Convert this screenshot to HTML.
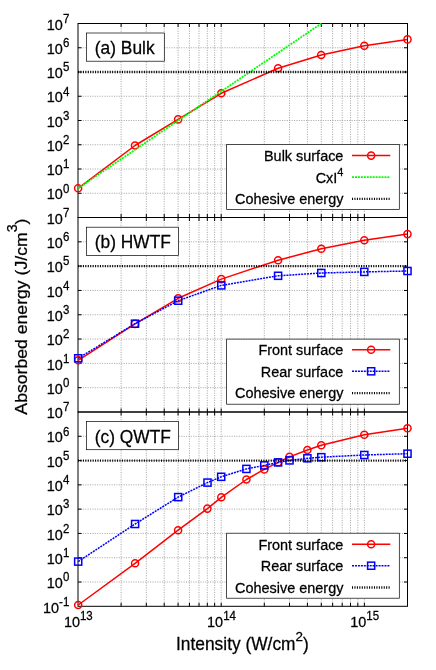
<!DOCTYPE html>
<html>
<head>
<meta charset="utf-8">
<title>Absorbed energy vs intensity</title>
<style>
html, body { margin: 0; padding: 0; background: #ffffff; }
body { width: 436px; height: 670px; overflow: hidden; font-family: "Liberation Sans", sans-serif; }
svg { display: block; will-change: transform; }
</style>
</head>
<body>
<svg width="436" height="670" viewBox="0 0 436 670">
<rect x="0" y="0" width="436" height="670" fill="#ffffff"/>
<g>
<path d="M121.11 23.5V217.5M146.32 23.5V217.5M164.21 23.5V217.5M178.09 23.5V217.5M189.43 23.5V217.5M199.02 23.5V217.5M207.32 23.5V217.5M214.64 23.5V217.5M221.2 23.5V217.5M264.3 23.5V217.5M289.52 23.5V217.5M307.41 23.5V217.5M321.29 23.5V217.5M332.63 23.5V217.5M342.21 23.5V217.5M350.52 23.5V217.5M357.84 23.5V217.5M364.39 23.5V217.5M78 193.25H407.5M78 169H407.5M78 144.75H407.5M78 120.5H407.5M78 96.25H407.5M78 72H407.5M78 47.75H407.5" fill="none" stroke="#a2a2a2" stroke-width="0.9" stroke-dasharray="1.1 1.3"/>
<path d="M121.11 23.5v3.5M121.11 217.5v-3.5M146.32 23.5v3.5M146.32 217.5v-3.5M164.21 23.5v3.5M164.21 217.5v-3.5M178.09 23.5v3.5M178.09 217.5v-3.5M189.43 23.5v3.5M189.43 217.5v-3.5M199.02 23.5v3.5M199.02 217.5v-3.5M207.32 23.5v3.5M207.32 217.5v-3.5M214.64 23.5v3.5M214.64 217.5v-3.5M221.2 23.5v3.5M221.2 217.5v-3.5M264.3 23.5v3.5M264.3 217.5v-3.5M289.52 23.5v3.5M289.52 217.5v-3.5M307.41 23.5v3.5M307.41 217.5v-3.5M321.29 23.5v3.5M321.29 217.5v-3.5M332.63 23.5v3.5M332.63 217.5v-3.5M342.21 23.5v3.5M342.21 217.5v-3.5M350.52 23.5v3.5M350.52 217.5v-3.5M357.84 23.5v3.5M357.84 217.5v-3.5M364.39 23.5v3.5M364.39 217.5v-3.5M78 193.25h3.5M407.5 193.25h-3.5M78 169h3.5M407.5 169h-3.5M78 144.75h3.5M407.5 144.75h-3.5M78 120.5h3.5M407.5 120.5h-3.5M78 96.25h3.5M407.5 96.25h-3.5M78 72h3.5M407.5 72h-3.5M78 47.75h3.5M407.5 47.75h-3.5" fill="none" stroke="#000" stroke-width="1"/>
<rect x="78" y="23.5" width="329.5" height="194" fill="none" stroke="#000" stroke-width="1"/>
<text transform="translate(69.3 199.45) scale(1 1.05)" text-anchor="end" font-family='"Liberation Sans", sans-serif' font-size="14.45" fill="#000" stroke="#000" stroke-width="0.25">10<tspan font-size="11.5" dy="-6.6">0</tspan></text>
<text transform="translate(69.3 175.2) scale(1 1.05)" text-anchor="end" font-family='"Liberation Sans", sans-serif' font-size="14.45" fill="#000" stroke="#000" stroke-width="0.25">10<tspan font-size="11.5" dy="-6.6">1</tspan></text>
<text transform="translate(69.3 150.95) scale(1 1.05)" text-anchor="end" font-family='"Liberation Sans", sans-serif' font-size="14.45" fill="#000" stroke="#000" stroke-width="0.25">10<tspan font-size="11.5" dy="-6.6">2</tspan></text>
<text transform="translate(69.3 126.7) scale(1 1.05)" text-anchor="end" font-family='"Liberation Sans", sans-serif' font-size="14.45" fill="#000" stroke="#000" stroke-width="0.25">10<tspan font-size="11.5" dy="-6.6">3</tspan></text>
<text transform="translate(69.3 102.45) scale(1 1.05)" text-anchor="end" font-family='"Liberation Sans", sans-serif' font-size="14.45" fill="#000" stroke="#000" stroke-width="0.25">10<tspan font-size="11.5" dy="-6.6">4</tspan></text>
<text transform="translate(69.3 78.2) scale(1 1.05)" text-anchor="end" font-family='"Liberation Sans", sans-serif' font-size="14.45" fill="#000" stroke="#000" stroke-width="0.25">10<tspan font-size="11.5" dy="-6.6">5</tspan></text>
<text transform="translate(69.3 53.95) scale(1 1.05)" text-anchor="end" font-family='"Liberation Sans", sans-serif' font-size="14.45" fill="#000" stroke="#000" stroke-width="0.25">10<tspan font-size="11.5" dy="-6.6">6</tspan></text>
<text transform="translate(69.3 29.7) scale(1 1.05)" text-anchor="end" font-family='"Liberation Sans", sans-serif' font-size="14.45" fill="#000" stroke="#000" stroke-width="0.25">10<tspan font-size="11.5" dy="-6.6">7</tspan></text>
</g>
<g>
<path d="M121.11 217.5V412M146.32 217.5V412M164.21 217.5V412M178.09 217.5V412M189.43 217.5V412M199.02 217.5V412M207.32 217.5V412M214.64 217.5V412M221.2 217.5V412M264.3 217.5V412M289.52 217.5V412M307.41 217.5V412M321.29 217.5V412M332.63 217.5V412M342.21 217.5V412M350.52 217.5V412M357.84 217.5V412M364.39 217.5V412M78 387.69H407.5M78 363.38H407.5M78 339.06H407.5M78 314.75H407.5M78 290.44H407.5M78 266.12H407.5M78 241.81H407.5" fill="none" stroke="#a2a2a2" stroke-width="0.9" stroke-dasharray="1.1 1.3"/>
<path d="M121.11 217.5v3.5M121.11 412v-3.5M146.32 217.5v3.5M146.32 412v-3.5M164.21 217.5v3.5M164.21 412v-3.5M178.09 217.5v3.5M178.09 412v-3.5M189.43 217.5v3.5M189.43 412v-3.5M199.02 217.5v3.5M199.02 412v-3.5M207.32 217.5v3.5M207.32 412v-3.5M214.64 217.5v3.5M214.64 412v-3.5M221.2 217.5v3.5M221.2 412v-3.5M264.3 217.5v3.5M264.3 412v-3.5M289.52 217.5v3.5M289.52 412v-3.5M307.41 217.5v3.5M307.41 412v-3.5M321.29 217.5v3.5M321.29 412v-3.5M332.63 217.5v3.5M332.63 412v-3.5M342.21 217.5v3.5M342.21 412v-3.5M350.52 217.5v3.5M350.52 412v-3.5M357.84 217.5v3.5M357.84 412v-3.5M364.39 217.5v3.5M364.39 412v-3.5M78 387.69h3.5M407.5 387.69h-3.5M78 363.38h3.5M407.5 363.38h-3.5M78 339.06h3.5M407.5 339.06h-3.5M78 314.75h3.5M407.5 314.75h-3.5M78 290.44h3.5M407.5 290.44h-3.5M78 266.12h3.5M407.5 266.12h-3.5M78 241.81h3.5M407.5 241.81h-3.5" fill="none" stroke="#000" stroke-width="1"/>
<rect x="78" y="217.5" width="329.5" height="194.5" fill="none" stroke="#000" stroke-width="1"/>
<text transform="translate(69.3 393.89) scale(1 1.05)" text-anchor="end" font-family='"Liberation Sans", sans-serif' font-size="14.45" fill="#000" stroke="#000" stroke-width="0.25">10<tspan font-size="11.5" dy="-6.6">0</tspan></text>
<text transform="translate(69.3 369.57) scale(1 1.05)" text-anchor="end" font-family='"Liberation Sans", sans-serif' font-size="14.45" fill="#000" stroke="#000" stroke-width="0.25">10<tspan font-size="11.5" dy="-6.6">1</tspan></text>
<text transform="translate(69.3 345.26) scale(1 1.05)" text-anchor="end" font-family='"Liberation Sans", sans-serif' font-size="14.45" fill="#000" stroke="#000" stroke-width="0.25">10<tspan font-size="11.5" dy="-6.6">2</tspan></text>
<text transform="translate(69.3 320.95) scale(1 1.05)" text-anchor="end" font-family='"Liberation Sans", sans-serif' font-size="14.45" fill="#000" stroke="#000" stroke-width="0.25">10<tspan font-size="11.5" dy="-6.6">3</tspan></text>
<text transform="translate(69.3 296.64) scale(1 1.05)" text-anchor="end" font-family='"Liberation Sans", sans-serif' font-size="14.45" fill="#000" stroke="#000" stroke-width="0.25">10<tspan font-size="11.5" dy="-6.6">4</tspan></text>
<text transform="translate(69.3 272.32) scale(1 1.05)" text-anchor="end" font-family='"Liberation Sans", sans-serif' font-size="14.45" fill="#000" stroke="#000" stroke-width="0.25">10<tspan font-size="11.5" dy="-6.6">5</tspan></text>
<text transform="translate(69.3 248.01) scale(1 1.05)" text-anchor="end" font-family='"Liberation Sans", sans-serif' font-size="14.45" fill="#000" stroke="#000" stroke-width="0.25">10<tspan font-size="11.5" dy="-6.6">6</tspan></text>
<text transform="translate(69.3 223.7) scale(1 1.05)" text-anchor="end" font-family='"Liberation Sans", sans-serif' font-size="14.45" fill="#000" stroke="#000" stroke-width="0.25">10<tspan font-size="11.5" dy="-6.6">7</tspan></text>
</g>
<g>
<path d="M121.11 412V606.3M146.32 412V606.3M164.21 412V606.3M178.09 412V606.3M189.43 412V606.3M199.02 412V606.3M207.32 412V606.3M214.64 412V606.3M221.2 412V606.3M264.3 412V606.3M289.52 412V606.3M307.41 412V606.3M321.29 412V606.3M332.63 412V606.3M342.21 412V606.3M350.52 412V606.3M357.84 412V606.3M364.39 412V606.3M78 582.01H407.5M78 557.72H407.5M78 533.44H407.5M78 509.15H407.5M78 484.86H407.5M78 460.57H407.5M78 436.29H407.5" fill="none" stroke="#a2a2a2" stroke-width="0.9" stroke-dasharray="1.1 1.3"/>
<path d="M121.11 412v3.5M121.11 606.3v-3.5M146.32 412v3.5M146.32 606.3v-3.5M164.21 412v3.5M164.21 606.3v-3.5M178.09 412v3.5M178.09 606.3v-3.5M189.43 412v3.5M189.43 606.3v-3.5M199.02 412v3.5M199.02 606.3v-3.5M207.32 412v3.5M207.32 606.3v-3.5M214.64 412v3.5M214.64 606.3v-3.5M221.2 412v3.5M221.2 606.3v-3.5M264.3 412v3.5M264.3 606.3v-3.5M289.52 412v3.5M289.52 606.3v-3.5M307.41 412v3.5M307.41 606.3v-3.5M321.29 412v3.5M321.29 606.3v-3.5M332.63 412v3.5M332.63 606.3v-3.5M342.21 412v3.5M342.21 606.3v-3.5M350.52 412v3.5M350.52 606.3v-3.5M357.84 412v3.5M357.84 606.3v-3.5M364.39 412v3.5M364.39 606.3v-3.5M78 582.01h3.5M407.5 582.01h-3.5M78 557.72h3.5M407.5 557.72h-3.5M78 533.44h3.5M407.5 533.44h-3.5M78 509.15h3.5M407.5 509.15h-3.5M78 484.86h3.5M407.5 484.86h-3.5M78 460.57h3.5M407.5 460.57h-3.5M78 436.29h3.5M407.5 436.29h-3.5" fill="none" stroke="#000" stroke-width="1"/>
<rect x="78" y="412" width="329.5" height="194.3" fill="none" stroke="#000" stroke-width="1"/>
<text transform="translate(69.3 612.5) scale(1 1.05)" text-anchor="end" font-family='"Liberation Sans", sans-serif' font-size="14.45" fill="#000" stroke="#000" stroke-width="0.25">10<tspan font-size="11.5" dy="-6.6">-1</tspan></text>
<text transform="translate(69.3 588.21) scale(1 1.05)" text-anchor="end" font-family='"Liberation Sans", sans-serif' font-size="14.45" fill="#000" stroke="#000" stroke-width="0.25">10<tspan font-size="11.5" dy="-6.6">0</tspan></text>
<text transform="translate(69.3 563.92) scale(1 1.05)" text-anchor="end" font-family='"Liberation Sans", sans-serif' font-size="14.45" fill="#000" stroke="#000" stroke-width="0.25">10<tspan font-size="11.5" dy="-6.6">1</tspan></text>
<text transform="translate(69.3 539.64) scale(1 1.05)" text-anchor="end" font-family='"Liberation Sans", sans-serif' font-size="14.45" fill="#000" stroke="#000" stroke-width="0.25">10<tspan font-size="11.5" dy="-6.6">2</tspan></text>
<text transform="translate(69.3 515.35) scale(1 1.05)" text-anchor="end" font-family='"Liberation Sans", sans-serif' font-size="14.45" fill="#000" stroke="#000" stroke-width="0.25">10<tspan font-size="11.5" dy="-6.6">3</tspan></text>
<text transform="translate(69.3 491.06) scale(1 1.05)" text-anchor="end" font-family='"Liberation Sans", sans-serif' font-size="14.45" fill="#000" stroke="#000" stroke-width="0.25">10<tspan font-size="11.5" dy="-6.6">4</tspan></text>
<text transform="translate(69.3 466.77) scale(1 1.05)" text-anchor="end" font-family='"Liberation Sans", sans-serif' font-size="14.45" fill="#000" stroke="#000" stroke-width="0.25">10<tspan font-size="11.5" dy="-6.6">5</tspan></text>
<text transform="translate(69.3 442.49) scale(1 1.05)" text-anchor="end" font-family='"Liberation Sans", sans-serif' font-size="14.45" fill="#000" stroke="#000" stroke-width="0.25">10<tspan font-size="11.5" dy="-6.6">6</tspan></text>
<text transform="translate(69.3 418.2) scale(1 1.05)" text-anchor="end" font-family='"Liberation Sans", sans-serif' font-size="14.45" fill="#000" stroke="#000" stroke-width="0.25">10<tspan font-size="11.5" dy="-6.6">7</tspan></text>
</g>
<rect x="86.6" y="33" width="77.7" height="28.2" fill="#fff" stroke="#000" stroke-width="0.7"/>
<text transform="translate(94.8 54) scale(1 1.02)" text-anchor="start" font-family='"Liberation Sans", sans-serif' font-size="17.35" fill="#000" stroke="#000" stroke-width="0.25">(a) Bulk</text>
<rect x="86.6" y="227.2" width="91.9" height="28.2" fill="#fff" stroke="#000" stroke-width="0.7"/>
<text transform="translate(94.8 248.2) scale(1 1.02)" text-anchor="start" font-family='"Liberation Sans", sans-serif' font-size="17.35" fill="#000" stroke="#000" stroke-width="0.25">(b) HWTF</text>
<rect x="86.6" y="421.5" width="91.9" height="28.2" fill="#fff" stroke="#000" stroke-width="0.7"/>
<text transform="translate(94.8 442.5) scale(1 1.02)" text-anchor="start" font-family='"Liberation Sans", sans-serif' font-size="17.35" fill="#000" stroke="#000" stroke-width="0.25">(c) QWTF</text>
<g>
<path d="M78.1 188.3L135 145.5L178.1 119.4L221.3 93.3L278.1 68.2L321.2 55L364.3 45.8L407.5 39.4" fill="none" stroke="#ff0000" stroke-width="1.5" stroke-linejoin="round"/>
<circle cx="78.1" cy="188.3" r="3.55" fill="none" stroke="#ff0000" stroke-width="1.5"/>
<circle cx="135" cy="145.5" r="3.55" fill="none" stroke="#ff0000" stroke-width="1.5"/>
<circle cx="178.1" cy="119.4" r="3.55" fill="none" stroke="#ff0000" stroke-width="1.5"/>
<circle cx="221.3" cy="93.3" r="3.55" fill="none" stroke="#ff0000" stroke-width="1.5"/>
<circle cx="278.1" cy="68.2" r="3.55" fill="none" stroke="#ff0000" stroke-width="1.5"/>
<circle cx="321.2" cy="55" r="3.55" fill="none" stroke="#ff0000" stroke-width="1.5"/>
<circle cx="364.3" cy="45.8" r="3.55" fill="none" stroke="#ff0000" stroke-width="1.5"/>
<circle cx="407.5" cy="39.4" r="3.55" fill="none" stroke="#ff0000" stroke-width="1.5"/>
<path d="M78.1 188.3L321.39 23.5" fill="none" stroke="#00ff00" stroke-width="1.8" stroke-dasharray="2.0 0.95"/>
<path d="M78 72H407.5" fill="none" stroke="#000" stroke-width="2.3" stroke-dasharray="1.05 1.39"/>
</g>
<g>
<path d="M78.2 360.3L135 323.9L178.2 298.3L221.3 279.1L278.1 260.2L321.3 248.8L364.3 240.2L407.5 234.1" fill="none" stroke="#ff0000" stroke-width="1.5" stroke-linejoin="round"/>
<circle cx="78.2" cy="360.3" r="3.55" fill="none" stroke="#ff0000" stroke-width="1.5"/>
<circle cx="135" cy="323.9" r="3.55" fill="none" stroke="#ff0000" stroke-width="1.5"/>
<circle cx="178.2" cy="298.3" r="3.55" fill="none" stroke="#ff0000" stroke-width="1.5"/>
<circle cx="221.3" cy="279.1" r="3.55" fill="none" stroke="#ff0000" stroke-width="1.5"/>
<circle cx="278.1" cy="260.2" r="3.55" fill="none" stroke="#ff0000" stroke-width="1.5"/>
<circle cx="321.3" cy="248.8" r="3.55" fill="none" stroke="#ff0000" stroke-width="1.5"/>
<circle cx="364.3" cy="240.2" r="3.55" fill="none" stroke="#ff0000" stroke-width="1.5"/>
<circle cx="407.5" cy="234.1" r="3.55" fill="none" stroke="#ff0000" stroke-width="1.5"/>
<path d="M78.2 358.3L135 323.7L178.2 300.7L221.3 285.4L278.1 275.8L321.3 273L364.3 271.9L407.5 271" fill="none" stroke="#0000ff" stroke-width="1.5" stroke-dasharray="2.0 0.95" stroke-linejoin="round"/>
<rect x="74.65" y="354.75" width="7.1" height="7.1" fill="none" stroke="#0000ff" stroke-width="1.5"/>
<rect x="131.45" y="320.15" width="7.1" height="7.1" fill="none" stroke="#0000ff" stroke-width="1.5"/>
<rect x="174.65" y="297.15" width="7.1" height="7.1" fill="none" stroke="#0000ff" stroke-width="1.5"/>
<rect x="217.75" y="281.85" width="7.1" height="7.1" fill="none" stroke="#0000ff" stroke-width="1.5"/>
<rect x="274.55" y="272.25" width="7.1" height="7.1" fill="none" stroke="#0000ff" stroke-width="1.5"/>
<rect x="317.75" y="269.45" width="7.1" height="7.1" fill="none" stroke="#0000ff" stroke-width="1.5"/>
<rect x="360.75" y="268.35" width="7.1" height="7.1" fill="none" stroke="#0000ff" stroke-width="1.5"/>
<rect x="403.95" y="267.45" width="7.1" height="7.1" fill="none" stroke="#0000ff" stroke-width="1.5"/>
<path d="M78 266.12H407.5" fill="none" stroke="#000" stroke-width="2.3" stroke-dasharray="1.05 1.39"/>
</g>
<g>
<path d="M78.2 605L135.1 563.3L178.1 530.2L207.4 508.6L221.3 497.3L246.4 479.5L264.3 469.4L278.1 462.3L289.5 456.9L307.4 450L321.3 445.3L364.3 434.8L407.5 428.3" fill="none" stroke="#ff0000" stroke-width="1.5" stroke-linejoin="round"/>
<circle cx="78.2" cy="605" r="3.55" fill="none" stroke="#ff0000" stroke-width="1.5"/>
<circle cx="135.1" cy="563.3" r="3.55" fill="none" stroke="#ff0000" stroke-width="1.5"/>
<circle cx="178.1" cy="530.2" r="3.55" fill="none" stroke="#ff0000" stroke-width="1.5"/>
<circle cx="207.4" cy="508.6" r="3.55" fill="none" stroke="#ff0000" stroke-width="1.5"/>
<circle cx="221.3" cy="497.3" r="3.55" fill="none" stroke="#ff0000" stroke-width="1.5"/>
<circle cx="246.4" cy="479.5" r="3.55" fill="none" stroke="#ff0000" stroke-width="1.5"/>
<circle cx="264.3" cy="469.4" r="3.55" fill="none" stroke="#ff0000" stroke-width="1.5"/>
<circle cx="278.1" cy="462.3" r="3.55" fill="none" stroke="#ff0000" stroke-width="1.5"/>
<circle cx="289.5" cy="456.9" r="3.55" fill="none" stroke="#ff0000" stroke-width="1.5"/>
<circle cx="307.4" cy="450" r="3.55" fill="none" stroke="#ff0000" stroke-width="1.5"/>
<circle cx="321.3" cy="445.3" r="3.55" fill="none" stroke="#ff0000" stroke-width="1.5"/>
<circle cx="364.3" cy="434.8" r="3.55" fill="none" stroke="#ff0000" stroke-width="1.5"/>
<circle cx="407.5" cy="428.3" r="3.55" fill="none" stroke="#ff0000" stroke-width="1.5"/>
<path d="M78.2 561.6L135.1 524L178.2 497.1L207.5 482.6L221.2 476.8L246.4 468.9L264.3 465.4L278.1 462.4L289.5 460.4L307.4 458.3L321.3 457.2L364.3 455L407.5 453.7" fill="none" stroke="#0000ff" stroke-width="1.5" stroke-dasharray="2.0 0.95" stroke-linejoin="round"/>
<rect x="74.65" y="558.05" width="7.1" height="7.1" fill="none" stroke="#0000ff" stroke-width="1.5"/>
<rect x="131.55" y="520.45" width="7.1" height="7.1" fill="none" stroke="#0000ff" stroke-width="1.5"/>
<rect x="174.65" y="493.55" width="7.1" height="7.1" fill="none" stroke="#0000ff" stroke-width="1.5"/>
<rect x="203.95" y="479.05" width="7.1" height="7.1" fill="none" stroke="#0000ff" stroke-width="1.5"/>
<rect x="217.65" y="473.25" width="7.1" height="7.1" fill="none" stroke="#0000ff" stroke-width="1.5"/>
<rect x="242.85" y="465.35" width="7.1" height="7.1" fill="none" stroke="#0000ff" stroke-width="1.5"/>
<rect x="260.75" y="461.85" width="7.1" height="7.1" fill="none" stroke="#0000ff" stroke-width="1.5"/>
<rect x="274.55" y="458.85" width="7.1" height="7.1" fill="none" stroke="#0000ff" stroke-width="1.5"/>
<rect x="285.95" y="456.85" width="7.1" height="7.1" fill="none" stroke="#0000ff" stroke-width="1.5"/>
<rect x="303.85" y="454.75" width="7.1" height="7.1" fill="none" stroke="#0000ff" stroke-width="1.5"/>
<rect x="317.75" y="453.65" width="7.1" height="7.1" fill="none" stroke="#0000ff" stroke-width="1.5"/>
<rect x="360.75" y="451.45" width="7.1" height="7.1" fill="none" stroke="#0000ff" stroke-width="1.5"/>
<rect x="403.95" y="450.15" width="7.1" height="7.1" fill="none" stroke="#0000ff" stroke-width="1.5"/>
<path d="M78 460.57H407.5" fill="none" stroke="#000" stroke-width="2.3" stroke-dasharray="1.05 1.39"/>
</g>
<rect x="226.65" y="144.5" width="172.65" height="64.9" fill="#fff" stroke="#000" stroke-width="0.7"/>
<text transform="translate(343.4 160.9) scale(1 1.05)" text-anchor="end" font-family='"Liberation Sans", sans-serif' font-size="14.45" fill="#000" stroke="#000" stroke-width="0.25">Bulk surface</text>
<path d="M352 155.6H390.3" fill="none" stroke="#ff0000" stroke-width="1.5"/>
<circle cx="371.15" cy="155.6" r="3.55" fill="none" stroke="#ff0000" stroke-width="1.5"/>
<text transform="translate(343.4 183.4) scale(1 1.05)" text-anchor="end" font-family='"Liberation Sans", sans-serif' font-size="14.45" fill="#000" stroke="#000" stroke-width="0.25">CxI<tspan font-size="11" dy="-6.9">4</tspan></text>
<path d="M352 177.1H390.3" fill="none" stroke="#00ff00" stroke-width="1.8" stroke-dasharray="2.0 0.95"/>
<text transform="translate(343.4 203.9) scale(1 1.05)" text-anchor="end" font-family='"Liberation Sans", sans-serif' font-size="14.45" fill="#000" stroke="#000" stroke-width="0.25">Cohesive energy</text>
<path d="M352 198.9H390.3" fill="none" stroke="#000" stroke-width="2.3" stroke-dasharray="1.05 1.39"/>
<rect x="226.65" y="339.1" width="172.65" height="65.1" fill="#fff" stroke="#000" stroke-width="0.7"/>
<text transform="translate(343.4 355.1) scale(1 1.05)" text-anchor="end" font-family='"Liberation Sans", sans-serif' font-size="14.45" fill="#000" stroke="#000" stroke-width="0.25">Front surface</text>
<path d="M352 349.8H390.3" fill="none" stroke="#ff0000" stroke-width="1.5"/>
<circle cx="371.15" cy="349.8" r="3.55" fill="none" stroke="#ff0000" stroke-width="1.5"/>
<text transform="translate(343.4 377) scale(1 1.05)" text-anchor="end" font-family='"Liberation Sans", sans-serif' font-size="14.45" fill="#000" stroke="#000" stroke-width="0.25">Rear surface</text>
<path d="M352 371.3H390.3" fill="none" stroke="#0000ff" stroke-width="1.5" stroke-dasharray="2.0 0.95"/>
<rect x="367.6" y="367.75" width="7.1" height="7.1" fill="none" stroke="#0000ff" stroke-width="1.5"/>
<text transform="translate(343.4 398.1) scale(1 1.05)" text-anchor="end" font-family='"Liberation Sans", sans-serif' font-size="14.45" fill="#000" stroke="#000" stroke-width="0.25">Cohesive energy</text>
<path d="M352 393.1H390.3" fill="none" stroke="#000" stroke-width="2.3" stroke-dasharray="1.05 1.39"/>
<rect x="226.65" y="533.2" width="172.65" height="65" fill="#fff" stroke="#000" stroke-width="0.7"/>
<text transform="translate(343.4 549.5) scale(1 1.05)" text-anchor="end" font-family='"Liberation Sans", sans-serif' font-size="14.45" fill="#000" stroke="#000" stroke-width="0.25">Front surface</text>
<path d="M352 544.2H390.3" fill="none" stroke="#ff0000" stroke-width="1.5"/>
<circle cx="371.15" cy="544.2" r="3.55" fill="none" stroke="#ff0000" stroke-width="1.5"/>
<text transform="translate(343.4 571.4) scale(1 1.05)" text-anchor="end" font-family='"Liberation Sans", sans-serif' font-size="14.45" fill="#000" stroke="#000" stroke-width="0.25">Rear surface</text>
<path d="M352 565.7H390.3" fill="none" stroke="#0000ff" stroke-width="1.5" stroke-dasharray="2.0 0.95"/>
<rect x="367.6" y="562.15" width="7.1" height="7.1" fill="none" stroke="#0000ff" stroke-width="1.5"/>
<text transform="translate(343.4 592.5) scale(1 1.05)" text-anchor="end" font-family='"Liberation Sans", sans-serif' font-size="14.45" fill="#000" stroke="#000" stroke-width="0.25">Cohesive energy</text>
<path d="M352 587.5H390.3" fill="none" stroke="#000" stroke-width="2.3" stroke-dasharray="1.05 1.39"/>
<text transform="translate(78.3 626.5) scale(1 1.05)" text-anchor="middle" font-family='"Liberation Sans", sans-serif' font-size="14.45" fill="#000" stroke="#000" stroke-width="0.25">10<tspan font-size="11.5" dy="-6.6">13</tspan></text>
<text transform="translate(221.5 626.5) scale(1 1.05)" text-anchor="middle" font-family='"Liberation Sans", sans-serif' font-size="14.45" fill="#000" stroke="#000" stroke-width="0.25">10<tspan font-size="11.5" dy="-6.6">14</tspan></text>
<text transform="translate(364.69 626.5) scale(1 1.05)" text-anchor="middle" font-family='"Liberation Sans", sans-serif' font-size="14.45" fill="#000" stroke="#000" stroke-width="0.25">10<tspan font-size="11.5" dy="-6.6">15</tspan></text>
<text transform="translate(242.4 650) scale(1 1.02)" text-anchor="middle" font-family='"Liberation Sans", sans-serif' font-size="17.35" fill="#000" stroke="#000" stroke-width="0.25">Intensity (W/cm<tspan font-size="13.4" dy="-9">2</tspan><tspan font-size="17.35" dy="9">)</tspan></text>
<text transform="translate(26.6 316.6) rotate(-90) scale(1.017 1)" text-anchor="middle" font-family='"Liberation Sans", sans-serif' font-size="17.35" fill="#000" stroke="#000" stroke-width="0.25">Absorbed energy (J/cm<tspan font-size="14" dy="-9.8">3</tspan><tspan font-size="17.35" dy="9.8">)</tspan></text>
</svg>
</body>
</html>
